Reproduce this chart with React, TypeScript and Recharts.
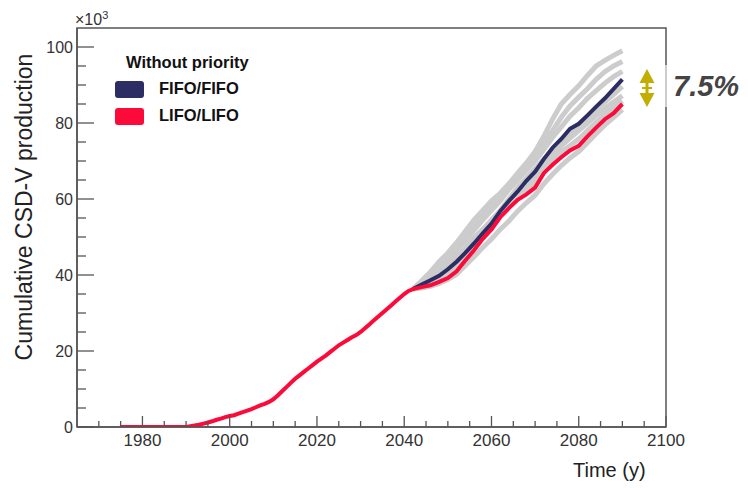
import { LineChart, Line, XAxis, YAxis, ReferenceArea } from 'recharts'

// shared history, one value per year from 1975 to 2042 (x10^3)
const COMMON_START = 1975
const commonValues = [
  0, 0, 0, 0, 0, 0, 0, 0, 0, 0, 0, 0, 0, 0, 0, 0,
  0.2, 0.4, 0.6, 0.9, 1.2, 1.5, 1.9, 2.2, 2.6, 2.9,
  3.1, 3.5, 3.9, 4.3, 4.7, 5.2, 5.7, 6.1, 6.6, 7.3,
  8.3, 9.4, 10.5, 11.6, 12.7, 13.6, 14.5, 15.4, 16.3, 17.2,
  18.0, 18.8, 19.7, 20.6, 21.5, 22.2, 22.9, 23.6, 24.2, 25.0,
  26.0, 27.0, 28.0, 29.0, 30.0, 31.0, 32.0, 33.0, 34.0, 35.0,
  35.8, 36.3,
]

// scenarios after the split, every 2 years from 2042 to 2090
const TAIL_START = 2042
const TAIL_STEP = 2
const fifoTail = [
  36.3, 37.5, 38.6, 39.8, 41.5, 43.5, 45.8, 48.3, 51.0, 53.5, 56.8, 59.5, 62.0,
  64.8, 67.2, 70.5, 73.5, 75.8, 78.5, 79.8, 82.0, 84.3, 86.5, 89.0, 91.5,
]
const lifoTail = [
  36.3, 36.8, 37.3, 38.2, 39.2, 41.0, 43.8, 46.5, 49.5, 52.0, 55.2, 57.6, 59.8,
  61.2, 63.0, 66.8, 69.0, 71.0, 72.8, 74.0, 76.5, 78.8, 81.0, 82.6, 85.0,
]
const grayRuns = [
  [36.3, 38.5, 40.8, 43.5, 45.8, 48.5, 51.5, 54.5, 57.0, 59.5, 61.5, 64.0, 66.8, 69.5, 72.5, 76.5, 81.0, 85.0, 87.5, 89.8, 92.5, 95.0, 96.5, 97.8, 99.0],
  [36.3, 38.2, 40.3, 42.8, 45.0, 47.2, 50.2, 53.0, 55.5, 58.2, 60.8, 63.2, 65.5, 68.5, 71.5, 74.8, 78.0, 81.5, 84.5, 86.8, 89.0, 91.5, 93.5, 95.0, 96.2],
  [36.3, 37.9, 39.8, 41.8, 44.0, 46.5, 49.0, 51.8, 54.5, 57.0, 59.5, 62.5, 65.0, 67.5, 70.0, 73.0, 76.2, 79.0, 81.8, 84.0, 86.5, 88.5, 90.5, 92.2, 93.6],
  [36.3, 37.6, 39.0, 40.8, 42.8, 45.0, 47.0, 49.8, 52.0, 54.5, 57.0, 60.0, 63.0, 65.5, 68.0, 70.5, 72.8, 75.5, 77.5, 79.5, 81.5, 83.5, 85.5, 87.5, 89.6],
  [36.3, 37.2, 38.5, 39.8, 41.5, 43.5, 46.0, 48.5, 51.5, 53.8, 56.2, 58.8, 61.0, 63.5, 66.0, 68.8, 71.5, 74.0, 76.0, 78.0, 80.0, 82.0, 83.8, 85.5, 87.2],
  [36.3, 37.0, 37.8, 39.0, 40.5, 42.5, 44.8, 47.5, 50.0, 52.8, 55.8, 58.2, 60.5, 62.5, 64.5, 67.5, 70.0, 72.3, 74.0, 75.8, 78.0, 80.2, 82.3, 84.0, 85.8],
  [36.3, 36.6, 37.0, 37.8, 38.8, 40.2, 42.5, 44.8, 47.2, 49.5, 52.0, 54.2, 56.8, 59.0, 61.0, 64.0, 66.5, 68.8, 70.8, 72.5, 74.8, 77.2, 79.5, 81.5, 83.5],
]

const xTicks = [
  1970, 1975, 1980, 1985, 1990, 1995, 2000, 2005, 2010, 2015, 2020, 2025, 2030,
  2035, 2040, 2045, 2050, 2055, 2060, 2065, 2070, 2075, 2080, 2085, 2090, 2095, 2100,
]
const yTicks = [0, 5, 10, 15, 20, 25, 30, 35, 40, 45, 50, 55, 60, 65, 70, 75, 80, 85, 90, 95, 100]

const NAVY = '#2c2d63'
const RED = '#fb0a3a'
const GRAY = '#cccccc'
const AXIS = '#555'
const FONT = '"Liberation Sans", Arial, sans-serif'

type Row = { year: number; [k: string]: number }
const rowMap = new Map<number, Row>()
const getRow = (year: number) => {
  if (!rowMap.has(year)) rowMap.set(year, { year })
  return rowMap.get(year) as Row
}
commonValues.forEach((v, i) => {
  getRow(COMMON_START + i).lifo = v
})
lifoTail.forEach((v, i) => {
  getRow(TAIL_START + i * TAIL_STEP).lifo = v
})
fifoTail.forEach((v, i) => {
  getRow(TAIL_START + i * TAIL_STEP).fifo = v
})
grayRuns.forEach((run, g) =>
  run.forEach((v, i) => {
    getRow(TAIL_START + i * TAIL_STEP)[`g${g}`] = v
  })
)
const data = Array.from(rowMap.values()).sort((a, b) => a.year - b.year)

function YTick({ x, y, payload }: any) {
  const v = payload.value
  const major = v % 20 === 0
  return (
    <g>
      <line x1={x} x2={x + (major ? 17 : 9)} y1={y} y2={y} stroke={AXIS} strokeWidth={1.3} />
      {major && (
        <text x={x - 4} y={y + 6} textAnchor="end" fontSize={16} fill="#333" fontFamily={FONT}>
          {v}
        </text>
      )}
    </g>
  )
}

function XTick({ x, y, payload }: any) {
  const v = payload.value
  const major = v % 20 === 0
  return (
    <g>
      <line x1={x} x2={x} y1={y} y2={y - (major ? 11 : 6)} stroke={AXIS} strokeWidth={1.3} />
      {major && (
        <text x={x} y={y + 19} textAnchor="middle" fontSize={17} fill="#333" fontFamily={FONT}>
          {v}
        </text>
      )}
    </g>
  )
}

export default function App() {
  return (
    <div style={{ position: 'absolute', left: 0, top: 0, width: 748, height: 488, background: '#fff', fontFamily: FONT }}>
      <LineChart width={748} height={488} data={data} margin={{ top: 28, right: 82, bottom: 31, left: 37 }}>
        <XAxis
          dataKey="year"
          type="number"
          domain={[1965, 2100]}
          allowDataOverflow
          ticks={xTicks}
          interval={0}
          tickSize={0}
          tickMargin={0}
          tick={<XTick />}
          height={30}
          axisLine={{ stroke: AXIS, strokeWidth: 1.5 }}
        />
        <YAxis
          type="number"
          domain={[0, 105]}
          allowDataOverflow
          ticks={yTicks}
          interval={0}
          tickSize={0}
          tickMargin={0}
          tick={<YTick />}
          width={40}
          axisLine={{ stroke: AXIS, strokeWidth: 1.5 }}
        />
        {/* plot frame */}
        <ReferenceArea x1={1965} x2={2100} y1={0} y2={105} fill="none" stroke={AXIS} strokeWidth={1.5} ifOverflow="visible" />
        {grayRuns.map((_, g) => (
          <Line key={g} dataKey={`g${g}`} stroke={GRAY} strokeWidth={5} dot={false} connectNulls isAnimationActive={false} />
        ))}
        <Line dataKey="fifo" stroke={NAVY} strokeWidth={4} dot={false} connectNulls isAnimationActive={false} />
        <Line dataKey="lifo" stroke={RED} strokeWidth={4} dot={false} connectNulls isAnimationActive={false} />
      </LineChart>

      {/* exponent */}
      <div style={{ position: 'absolute', left: 75, top: 12, fontSize: 16, color: '#333', lineHeight: '16px' }}>
        ×10<sup style={{ fontSize: 11, verticalAlign: 'top', position: 'relative', top: -5 }}>3</sup>
      </div>

      {/* axis titles */}
      <div
        style={{
          position: 'absolute',
          left: 24,
          top: 207,
          transform: 'translate(-50%, -50%) rotate(-90deg)',
          whiteSpace: 'nowrap',
          fontSize: 23,
          color: '#222',
        }}
      >
        Cumulative CSD-V production
      </div>
      <div style={{ position: 'absolute', left: 573, top: 459, fontSize: 20, color: '#222', whiteSpace: 'nowrap' }}>Time (y)</div>

      {/* legend */}
      <div style={{ position: 'absolute', left: 126, top: 53, fontSize: 16.5, fontWeight: 'bold', color: '#111', whiteSpace: 'nowrap' }}>
        Without priority
      </div>
      <div style={{ position: 'absolute', left: 115, top: 81, width: 29, height: 17, background: NAVY, borderRadius: 3 }} />
      <div style={{ position: 'absolute', left: 159, top: 79, fontSize: 16.5, fontWeight: 'bold', color: '#111' }}>FIFO/FIFO</div>
      <div style={{ position: 'absolute', left: 115, top: 107.5, width: 29, height: 17.5, background: RED, borderRadius: 3 }} />
      <div style={{ position: 'absolute', left: 159, top: 106, fontSize: 16.5, fontWeight: 'bold', color: '#111' }}>LIFO/LIFO</div>

      {/* spread annotation */}
      <svg style={{ position: 'absolute', left: 0, top: 0 }} width={748} height={488}>
        <rect x={663} y={65} width={6} height={42} fill="rgba(255,255,255,0.6)" />
        <polygon points="647,69 639.5,83 654.5,83" fill="#c2ae00" />
        <rect x={645.5} y={82} width={3} height={12} fill="#c2ae00" />
        <rect x={642} y={87} width={10} height={2} fill="#c2ae00" />
        <polygon points="639.5,93 654.5,93 647,107" fill="#c2ae00" />
      </svg>
      <div style={{ position: 'absolute', left: 673, top: 70, fontSize: 29, fontWeight: 'bold', fontStyle: 'italic', color: '#444' }}>7.5%</div>
    </div>
  )
}
